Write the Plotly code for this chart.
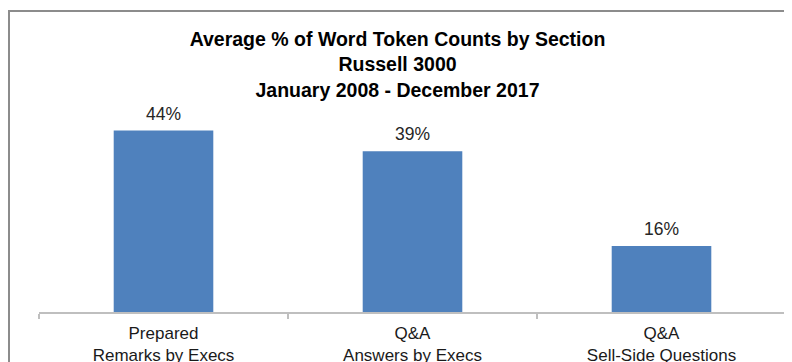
import plotly.graph_objects as go

categories = ["Prepared<br>Remarks by Execs", "Q&A<br>Answers by Execs", "Q&A<br>Sell-Side Questions"]
values = [44, 39, 16]
labels = ["44%", "39%", "16%"]
title_lines = ["Average % of Word Token Counts by Section", "Russell 3000", "January 2008 - December 2017"]

FONT = "Liberation Sans, Arial, sans-serif"
W, H = 792, 362
# page body has an 8px offset; targets below are in figure coordinates
L, R, T, B = 31, 14, 97, 58
pw, ph = W - L - R, H - T - B

fig = go.Figure(go.Bar(
    x=categories, y=values,
    marker=dict(color="#4F81BD", line=dict(width=0)),
    hovertext=labels,
))

for cat, val, lab in zip(categories, values, labels):
    fig.add_annotation(
        x=cat, y=val, text=lab, showarrow=False,
        xanchor="center", yanchor="bottom", yshift=5,
        font=dict(family=FONT, size=17.5, color="#262626"),
    )

def px_x(px):
    return (px - L) / pw

def px_y(py):
    return (H - B - py) / ph

fig.update_layout(
    width=W, height=H,
    margin=dict(l=L, r=R, t=T, b=B, autoexpand=False),
    paper_bgcolor="white", plot_bgcolor="white",
    bargap=0.6,
    showlegend=False,
    title=dict(
        text="<br>".join(title_lines),
        x=389.5 / W, xanchor="center", xref="container",
        y=1 - 38 / H, yanchor="top", yref="container",
        automargin=False,
        font=dict(family=FONT, size=19.5, color="black", weight="bold"),
    ),
    xaxis=dict(
        showline=True, linecolor="#BFBFBF", linewidth=1.5,
        ticks="outside", tickson="boundaries", ticklen=5, tickcolor="#BFBFBF", tickwidth=1.5,
        tickfont=dict(family=FONT, size=17, color="#1a1a1a"),
        ticklabelstandoff=5,
        showgrid=False, automargin=False,
    ),
    yaxis=dict(range=[0, 50.2], visible=False, showgrid=False, zeroline=False, automargin=False),
    shapes=[dict(
        type="rect", xref="paper", yref="paper",
        x0=px_x(1), x1=px_x(805), y0=px_y(380), y1=px_y(3),
        line=dict(color="#8C8C8C", width=2), fillcolor="rgba(0,0,0,0)", layer="above",
    )],
)

fig.write_html("out.html")
